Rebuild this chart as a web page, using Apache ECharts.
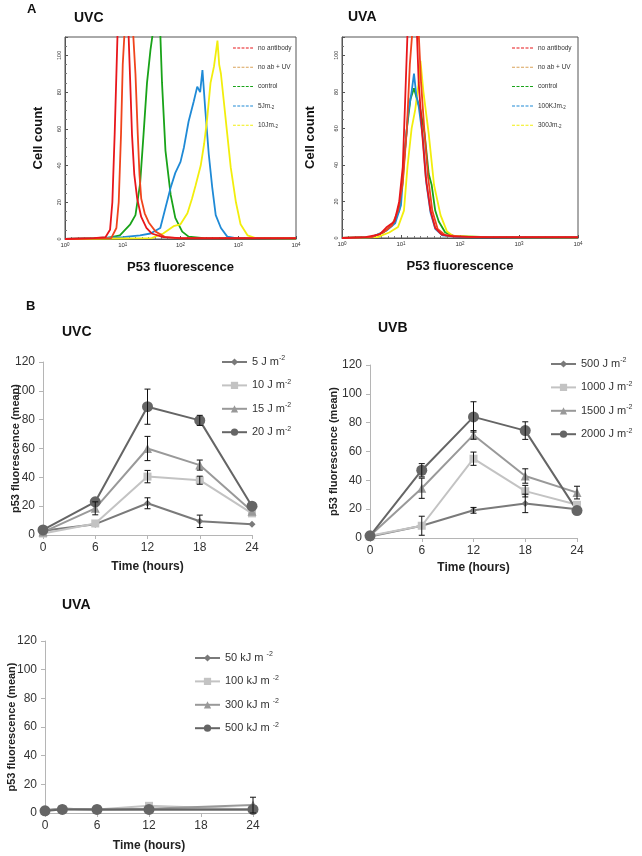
<!DOCTYPE html>
<html><head><meta charset="utf-8">
<script src="https://cdn.jsdelivr.net/npm/echarts@6/dist/echarts.min.js"></script>
<style>html,body{margin:0;padding:0;background:#fff}#c{width:642px;height:856px}</style>
</head><body><div id="c"></div>
<script>
// ---------------- Panel A : flow cytometry histograms ----------------
// x = log10(P53 fluorescence) in decades (axis shows 10^0 .. 10^4), y = cell count
const histLegendNames = ['no antibody', 'no ab + UV', 'control'];
const uvcHistDoseNames = ['5Jm-2', '10Jm-2'];
const uvaHistDoseNames = ['100KJm-2', '300Jm-2'];

const uvcHistNoAb = [[0,0],[0.5,0.5],[0.7,1],[0.78,5],[0.82,20],[0.86,57],[0.89,90],[0.91,112],[0.95,118],[1.0,120],[1.05,116],[1.10,112],[1.13,85],[1.16,57],[1.2,35],[1.25,22],[1.32,12],[1.41,6],[1.5,3],[1.7,1],[2.0,0.5],[4,0.5]];
const uvcHistNoAbUV = [[0,0],[0.8,0.5],[0.89,6],[0.93,20],[0.97,57],[1.0,95],[1.03,112],[1.08,118],[1.13,115],[1.18,112],[1.22,90],[1.26,57],[1.29,35],[1.32,22],[1.38,14],[1.45,9],[1.57,4],[1.74,1],[2.0,0.3],[4,0.3]];
const uvcHistControl = [[0,0],[0.7,0.3],[0.95,2],[1.04,5],[1.13,8],[1.22,13],[1.30,30],[1.36,57],[1.42,85],[1.48,103],[1.52,112],[1.58,120],[1.65,112],[1.68,85],[1.74,48],[1.83,24],[1.91,11.5],[2.03,4],[2.14,1.3],[2.4,0.5],[4,0.3]];
const uvcHist5J = [[0,0],[1.0,1],[1.3,2],[1.48,3],[1.65,6],[1.74,17],[1.83,28],[1.91,36],[2.0,42],[2.06,50],[2.14,64],[2.23,75],[2.29,83],[2.34,80],[2.38,92],[2.43,70],[2.49,46],[2.55,28],[2.61,13],[2.70,6],[2.81,1.3],[2.96,0.5],[4,0.3]];
const uvcHist10J = [[0,0],[1.5,0.5],[1.70,3],[1.88,7],[2.0,8],[2.12,14],[2.2,22],[2.26,29],[2.35,40],[2.41,52],[2.46,65],[2.52,85],[2.58,94],[2.64,108],[2.67,95],[2.70,90],[2.75,75],[2.81,57],[2.87,39],[2.96,20],[3.04,8],[3.16,2],[3.30,0.5],[4,0.3]];

const uvaHistNoAb = [[0,0],[0.4,0.5],[0.64,2],[0.75,5.7],[0.89,9],[0.97,20],[1.03,39],[1.07,75],[1.11,112],[1.15,120],[1.2,118],[1.27,112],[1.30,85],[1.36,57],[1.42,33],[1.50,15],[1.58,5.5],[1.69,1.8],[1.9,0.8],[2.5,0.5],[3.5,0.5],[4,0.5]];
const uvaHistNoAbUV = [[0,0],[0.5,0.5],[0.7,3],[0.85,7],[0.95,15],[1.03,30],[1.10,60],[1.15,95],[1.19,112],[1.24,118],[1.30,112],[1.34,85],[1.40,57],[1.46,33],[1.53,15],[1.62,5],[1.75,1.5],[2.2,0.5],[4,0.3]];
const uvaHistControl = [[0,0],[0.5,0.5],[0.7,3],[0.85,7],[0.97,15],[1.03,35],[1.10,60],[1.16,76],[1.22,82],[1.27,76],[1.33,70],[1.40,57],[1.47,35],[1.52,29],[1.58,15],[1.64,9],[1.75,3],[1.9,1],[2.5,0.5],[4,0.3]];
const uvaHist100K = [[0,0],[0.5,0.5],[0.75,4],[0.9,8],[1.0,18],[1.06,45],[1.12,68],[1.18,80],[1.22,90],[1.26,78],[1.30,72],[1.37,55],[1.43,30],[1.50,14],[1.58,5],[1.7,1.5],[2.0,0.5],[4,0.3]];
const uvaHist300J = [[0,0],[0.6,0.5],[0.8,3],[0.95,6],[1.05,15],[1.11,39],[1.18,60],[1.24,70],[1.30,85],[1.33,97],[1.38,80],[1.47,57],[1.56,29],[1.67,12.5],[1.78,3.5],[1.89,1],[2.5,0.5],[4,0.3]];

// ---------------- Panel B : p53 fluorescence time courses ----------------
const hoursUVCB = [0, 6, 12, 18, 24];
const hoursUVA = [0, 2, 6, 12, 24];

const uvcNames = ['5 J m-2', '10 J m-2', '15 J m-2', '20 J m-2'];
const uvc5 = [3, 7.5, 22, 9.5, 7.5];
const uvc10 = [1, 8, 40.5, 38, 15];
const uvc15 = [2, 18.5, 60, 48.5, 16.5];
const uvc20 = [3.5, 23, 89, 79.5, 20];
const uvc5Err = [null, null, 3.8, 4.3, null];
const uvc10Err = [null, null, 4.3, 2.8, null];
const uvc15Err = [null, 4.5, 8.4, 3.5, null];
const uvc20Err = [null, null, 12.2, 3.5, null];

const uvbNames = ['500 J m-2', '1000 J m-2', '1500 J m-2', '2000 J m-2'];
const uvb500 = [1, 8.5, 19.2, 24, 20];
const uvb1000 = [1.5, 8.5, 55, 32.5, 23];
const uvb1500 = [1.5, 34.5, 71.5, 43, 31.5];
const uvb2000 = [1.5, 47, 84, 74.5, 19];
const uvb500Err = [null, null, 2, 6.4, null];
const uvb1000Err = [null, 6.6, 4.6, 4, null];
const uvb1500Err = [null, 7, 3, 5, 4.4];
const uvb2000Err = [null, 4.6, 10.5, 6.1, null];

const uvaNames = ['50 kJ m -2', '100 kJ m -2', '300 kJ m -2', '500 kJ m -2'];
const uva50 = [2, 3, 2.5, 2.5, 2.5];
const uva100 = [1.5, 2.5, 2.5, 5, 2.5];
const uva300 = [2, 3, 2.5, 3, 5.5];
const uva500 = [1.5, 2.5, 2.5, 2.5, 2.5];
const uva300Err = [null, null, null, null, 5.5];

// ---------------- building the chart ----------------
const FONT = '"Liberation Sans", Arial, Helvetica, sans-serif';
const C_RED = '#e8161b', C_RED2 = '#f0441c', C_TAN = '#d9a35a', C_GREEN = '#19a319', C_BLUE = '#1f8ad6', C_YEL = '#f2ee0c';
const G1 = '#7a7a7a', G2 = '#c3c3c3', G3 = '#999999', G4 = '#656565';
const DASH_ICON = 'path://M0 0h3v1h-3z M4.5 0h3v1h-3z M9 0h3v1h-3z M13.5 0h3v1h-3z M18 0h3v1h-3z';

function histX(gi, name) {
  return {type: 'value', gridIndex: gi, min: 0, max: 4, interval: 1,
    name: name, nameLocation: 'middle', nameGap: 22, nameMoveOverlap: false,
    nameTextStyle: {fontSize: 13, fontWeight: 'bold', color: '#111', fontFamily: FONT},
    axisLine: {show: true, lineStyle: {color: '#555'}},
    axisTick: {show: true, inside: true, length: 3, lineStyle: {color: '#555'}},
    minorTick: {show: true, splitNumber: 9, length: 2, lineStyle: {color: '#777'}},
    splitLine: {show: false},
    axisLabel: {fontSize: 6, color: '#333', margin: 3, fontFamily: FONT,
      formatter: v => '10{s|' + v + '}',
      rich: {s: {fontSize: 4.5, verticalAlign: 'top', lineHeight: 5, fontFamily: FONT}}}};
}
function histY(gi, gap) {
  return {type: 'value', gridIndex: gi, min: 0, max: 110, interval: 20,
    name: 'Cell count', nameLocation: 'middle', nameGap: gap, nameMoveOverlap: false,
    nameTextStyle: {fontSize: 13, fontWeight: 'bold', color: '#111', fontFamily: FONT},
    axisLine: {show: true, lineStyle: {color: '#555'}},
    axisTick: {show: true, inside: true, length: 3, lineStyle: {color: '#555'}},
    minorTick: {show: true, splitNumber: 4, length: 2, lineStyle: {color: '#777'}},
    splitLine: {show: false},
    axisLabel: {fontSize: 5.5, color: '#333', rotate: 90, margin: 3, showMaxLabel: false, fontFamily: FONT}};
}
function lineX(gi, gap) {
  return {type: 'value', gridIndex: gi, min: 0, max: 24, interval: 6,
    name: 'Time (hours)', nameLocation: 'middle', nameGap: gap, nameMoveOverlap: false,
    nameTextStyle: {fontSize: 12, fontWeight: 'bold', color: '#222', fontFamily: FONT},
    axisLine: {show: true, onZero: false, lineStyle: {color: '#b5b5b5'}},
    axisTick: {show: true, length: 4, lineStyle: {color: '#b5b5b5'}},
    splitLine: {show: false},
    axisLabel: {fontSize: 12, color: '#333', margin: 7, fontFamily: FONT}};
}
function lineY(gi, gap) {
  return {type: 'value', gridIndex: gi, min: 0, max: 120, interval: 20,
    name: 'p53 fluorescence (mean)', nameLocation: 'middle', nameGap: gap, nameMoveOverlap: false,
    nameTextStyle: {fontSize: 11, fontWeight: 'bold', color: '#222', fontFamily: FONT},
    axisLine: {show: true, lineStyle: {color: '#b5b5b5'}},
    axisTick: {show: true, length: 4, lineStyle: {color: '#b5b5b5'}},
    splitLine: {show: false},
    axisLabel: {fontSize: 12, color: '#333', margin: 8, fontFamily: FONT}};
}
function histSeries(gi, name, data, color, z) {
  return {type: 'line', name: name, xAxisIndex: gi, yAxisIndex: gi, data: data,
    symbol: 'none', lineStyle: {color: color, width: 1.8}, itemStyle: {color: color},
    clip: true, z: z, silent: true};
}
function lineSeries(gi, name, xs, ys, color, symbol, size) {
  return {type: 'line', name: name, xAxisIndex: gi, yAxisIndex: gi,
    data: xs.map((x, i) => [x, ys[i]]),
    symbol: symbol, symbolSize: size, showSymbol: true,
    lineStyle: {color: color, width: 2}, itemStyle: {color: color, borderWidth: 0}, z: 3};
}
function errRender(params, api) {
  const x = api.value(0), y = api.value(1), e = api.value(2);
  const t = api.coord([x, y + e]), b = api.coord([x, y - e]);
  const w = 3, st = {stroke: '#111', lineWidth: 1};
  return {type: 'group', children: [
    {type: 'line', shape: {x1: t[0], y1: t[1], x2: b[0], y2: b[1]}, style: st},
    {type: 'line', shape: {x1: t[0] - w, y1: t[1], x2: t[0] + w, y2: t[1]}, style: st},
    {type: 'line', shape: {x1: b[0] - w, y1: b[1], x2: b[0] + w, y2: b[1]}, style: st}]};
}
function errSeries(gi, xs, ys, errs) {
  const d = [];
  xs.forEach((x, i) => { if (errs[i] != null) d.push([x, ys[i], errs[i]]); });
  return {type: 'custom', xAxisIndex: gi, yAxisIndex: gi, data: d, renderItem: errRender,
    encode: {x: 0, y: 1}, z: 5, silent: true};
}
function lineLegend(names, left, top) {
  return {data: names, orient: 'vertical', left: left, top: top, itemWidth: 25, itemHeight: 9, itemGap: 9.4,
    padding: 0, selectedMode: false,
    formatter: n => n.replace(/-2$/, '{s|-2}'),
    textStyle: {fontSize: 11, color: '#333', fontFamily: FONT, lineHeight: 14,
      rich: {s: {fontSize: 7, verticalAlign: 'top', lineHeight: 14, fontFamily: FONT, color: '#333'}}}};
}
function histLegend(doseNames, left, itemWidth) {
  const d = [
    {name: 'no antibody'},
    {name: 'no ab + UV', itemStyle: {color: C_TAN}},
    {name: 'control'},
    {name: doseNames[0]}, {name: doseNames[1]}];
  return {data: d, orient: 'vertical', left: left, top: 44, itemWidth: itemWidth, itemHeight: 1.2, itemGap: 11.3,
    padding: 0, selectedMode: false, icon: DASH_ICON,
    formatter: n => n.replace(/-2$/, '{s|-2}'),
    textStyle: {fontSize: 6.5, color: '#333', fontFamily: FONT, lineHeight: 8,
      rich: {s: {fontSize: 4.5, verticalAlign: 'bottom', lineHeight: 8, fontFamily: FONT, color: '#333'}}}};
}
function title(text, left, top, size) {
  return {text: text, left: left, top: top, padding: 0,
    textStyle: {fontSize: size, fontWeight: 'bold', color: '#111', fontFamily: FONT}};
}

const chart = echarts.init(document.getElementById('c'), null, {renderer: 'canvas'});
const option = {
  animation: false,
  backgroundColor: '#fff',
  title: [
    title('A', 27, 3, 13), title('UVC', 74, 11, 14), title('UVA', 348, 10, 14),
    title('B', 26, 300, 13), title('UVC', 62, 325, 14), title('UVB', 378, 321, 14),
    title('UVA', 62, 598, 14)
  ],
  grid: [
    {left: 65, top: 37, width: 231, height: 202, show: true, borderColor: '#555', borderWidth: 1, containLabel: false, outerBoundsMode: 'none'},
    {left: 342, top: 37, width: 236, height: 201, show: true, borderColor: '#555', borderWidth: 1, containLabel: false, outerBoundsMode: 'none'},
    {left: 43, top: 362, width: 209, height: 173, containLabel: false, outerBoundsMode: 'none'},
    {left: 370, top: 365, width: 207, height: 173, containLabel: false, outerBoundsMode: 'none'},
    {left: 45, top: 641, width: 208, height: 172, containLabel: false, outerBoundsMode: 'none'}
  ],
  xAxis: [histX(0, 'P53 fluorescence'), histX(1, 'P53 fluorescence'), lineX(2, 26), lineX(3, 24), lineX(4, 27)],
  yAxis: [histY(0, 20), histY(1, 25), lineY(2, 22), lineY(3, 31), lineY(4, 28)],
  legend: [
    histLegend(uvcHistDoseNames, 233, 20),
    histLegend(uvaHistDoseNames, 512, 21),
    lineLegend(uvcNames, 221, 355),
    lineLegend(uvbNames, 550, 357),
    lineLegend(uvaNames, 194, 651)
  ],
  series: [
    histSeries(0, 'control', uvcHistControl, C_GREEN, 2),
    histSeries(0, uvcHistDoseNames[0], uvcHist5J, C_BLUE, 2),
    histSeries(0, uvcHistDoseNames[1], uvcHist10J, C_YEL, 2),
    histSeries(0, 'no ab + UV', uvcHistNoAbUV, C_RED2, 3),
    histSeries(0, 'no antibody', uvcHistNoAb, C_RED, 3),

    histSeries(1, 'control', uvaHistControl, C_GREEN, 2),
    histSeries(1, uvaHistDoseNames[1], uvaHist300J, C_YEL, 2),
    histSeries(1, uvaHistDoseNames[0], uvaHist100K, C_BLUE, 2),
    histSeries(1, 'no ab + UV', uvaHistNoAbUV, C_RED2, 3),
    histSeries(1, 'no antibody', uvaHistNoAb, C_RED, 3),

    lineSeries(2, uvcNames[0], hoursUVCB, uvc5, G1, 'diamond', 7),
    lineSeries(2, uvcNames[1], hoursUVCB, uvc10, G2, 'rect', 8),
    lineSeries(2, uvcNames[2], hoursUVCB, uvc15, G3, 'triangle', 9),
    lineSeries(2, uvcNames[3], hoursUVCB, uvc20, G4, 'circle', 11),
    errSeries(2, hoursUVCB, uvc5, uvc5Err), errSeries(2, hoursUVCB, uvc10, uvc10Err),
    errSeries(2, hoursUVCB, uvc15, uvc15Err), errSeries(2, hoursUVCB, uvc20, uvc20Err),

    lineSeries(3, uvbNames[0], hoursUVCB, uvb500, G1, 'diamond', 7),
    lineSeries(3, uvbNames[1], hoursUVCB, uvb1000, G2, 'rect', 8),
    lineSeries(3, uvbNames[2], hoursUVCB, uvb1500, G3, 'triangle', 9),
    lineSeries(3, uvbNames[3], hoursUVCB, uvb2000, G4, 'circle', 11),
    errSeries(3, hoursUVCB, uvb500, uvb500Err), errSeries(3, hoursUVCB, uvb1000, uvb1000Err),
    errSeries(3, hoursUVCB, uvb1500, uvb1500Err), errSeries(3, hoursUVCB, uvb2000, uvb2000Err),

    lineSeries(4, uvaNames[0], hoursUVA, uva50, G1, 'diamond', 7),
    lineSeries(4, uvaNames[1], hoursUVA, uva100, G2, 'rect', 8),
    lineSeries(4, uvaNames[2], hoursUVA, uva300, G3, 'triangle', 9),
    lineSeries(4, uvaNames[3], hoursUVA, uva500, G4, 'circle', 11),
    errSeries(4, hoursUVA, uva300, uva300Err)
  ]
};
chart.setOption(option);
</script></body></html>
